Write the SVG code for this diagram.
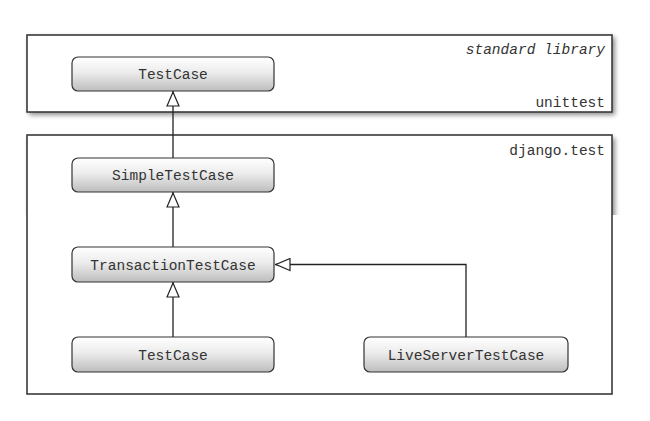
<svg xmlns="http://www.w3.org/2000/svg" width="650" height="421" viewBox="0 0 650 421">
<defs>
<linearGradient id="g" x1="0" y1="0" x2="0" y2="1">
<stop offset="0" stop-color="#ffffff"/>
<stop offset="0.45" stop-color="#ececec"/>
<stop offset="1" stop-color="#bdbdbd"/>
</linearGradient>
<filter id="sh" x="-10%" y="-20%" width="120%" height="150%">
<feGaussianBlur stdDeviation="2.5"/>
</filter>
<clipPath id="clipTop"><rect x="0" y="0" width="650" height="215"/></clipPath>
<marker id="tri" viewBox="0 0 16 14" refX="16" refY="7" markerWidth="16" markerHeight="14" markerUnits="userSpaceOnUse" orient="auto">
<path d="M1,1 L15,7 L1,13 Z" fill="#fff" stroke="#222" stroke-width="1.2"/>
</marker>
<style>
.pkg{fill:#fff;stroke:#3a3a3a;stroke-width:1.6}
.node{fill:url(#g);stroke:#333;stroke-width:1.2}
.t{font-family:"Liberation Mono","Courier New",monospace;font-size:14.5px;fill:#333}
.c{text-anchor:middle}
.r{text-anchor:end}
.edge{fill:none;stroke:#222;stroke-width:1.3}
</style>
</defs>
<g clip-path="url(#clipTop)" fill="#000" opacity="0.45" filter="url(#sh)">
<rect x="29" y="37" width="586" height="78"/>
<rect x="29" y="138" width="586" height="260"/>
</g>
<g id="pkg-unittest">
<rect class="pkg" x="27" y="35" width="585" height="77"/>
<text class="t r" x="605" y="54" font-style="italic">standard library</text>
<text class="t r" x="605" y="107">unittest</text>
</g>
<g id="pkg-django">
<rect class="pkg" x="27" y="135" width="585" height="259"/>
<text class="t r" x="605" y="155">django.test</text>
</g>
<g id="connectors">
<line class="edge" x1="173" y1="158" x2="173" y2="91" marker-end="url(#tri)"/>
<line class="edge" x1="173" y1="247" x2="173" y2="192" marker-end="url(#tri)"/>
<line class="edge" x1="173" y1="337" x2="173" y2="282" marker-end="url(#tri)"/>
<polyline class="edge" points="466,337 466,264.5 275,264.5" marker-end="url(#tri)"/>
</g>
<g id="unittest-TestCase">
<rect class="node" x="72" y="57" width="202" height="34" rx="6"/>
<text class="t c" x="173" y="79">TestCase</text>
</g>
<g id="SimpleTestCase">
<rect class="node" x="72" y="158" width="202" height="34" rx="6"/>
<text class="t c" x="173" y="180">SimpleTestCase</text>
</g>
<g id="TransactionTestCase">
<rect class="node" x="72" y="247" width="202" height="35" rx="6"/>
<text class="t c" x="173" y="270">TransactionTestCase</text>
</g>
<g id="django-TestCase">
<rect class="node" x="72" y="337" width="202" height="35" rx="6"/>
<text class="t c" x="173" y="360">TestCase</text>
</g>
<g id="LiveServerTestCase">
<rect class="node" x="364" y="337" width="204" height="35" rx="6"/>
<text class="t c" x="466" y="360">LiveServerTestCase</text>
</g>
</svg>
